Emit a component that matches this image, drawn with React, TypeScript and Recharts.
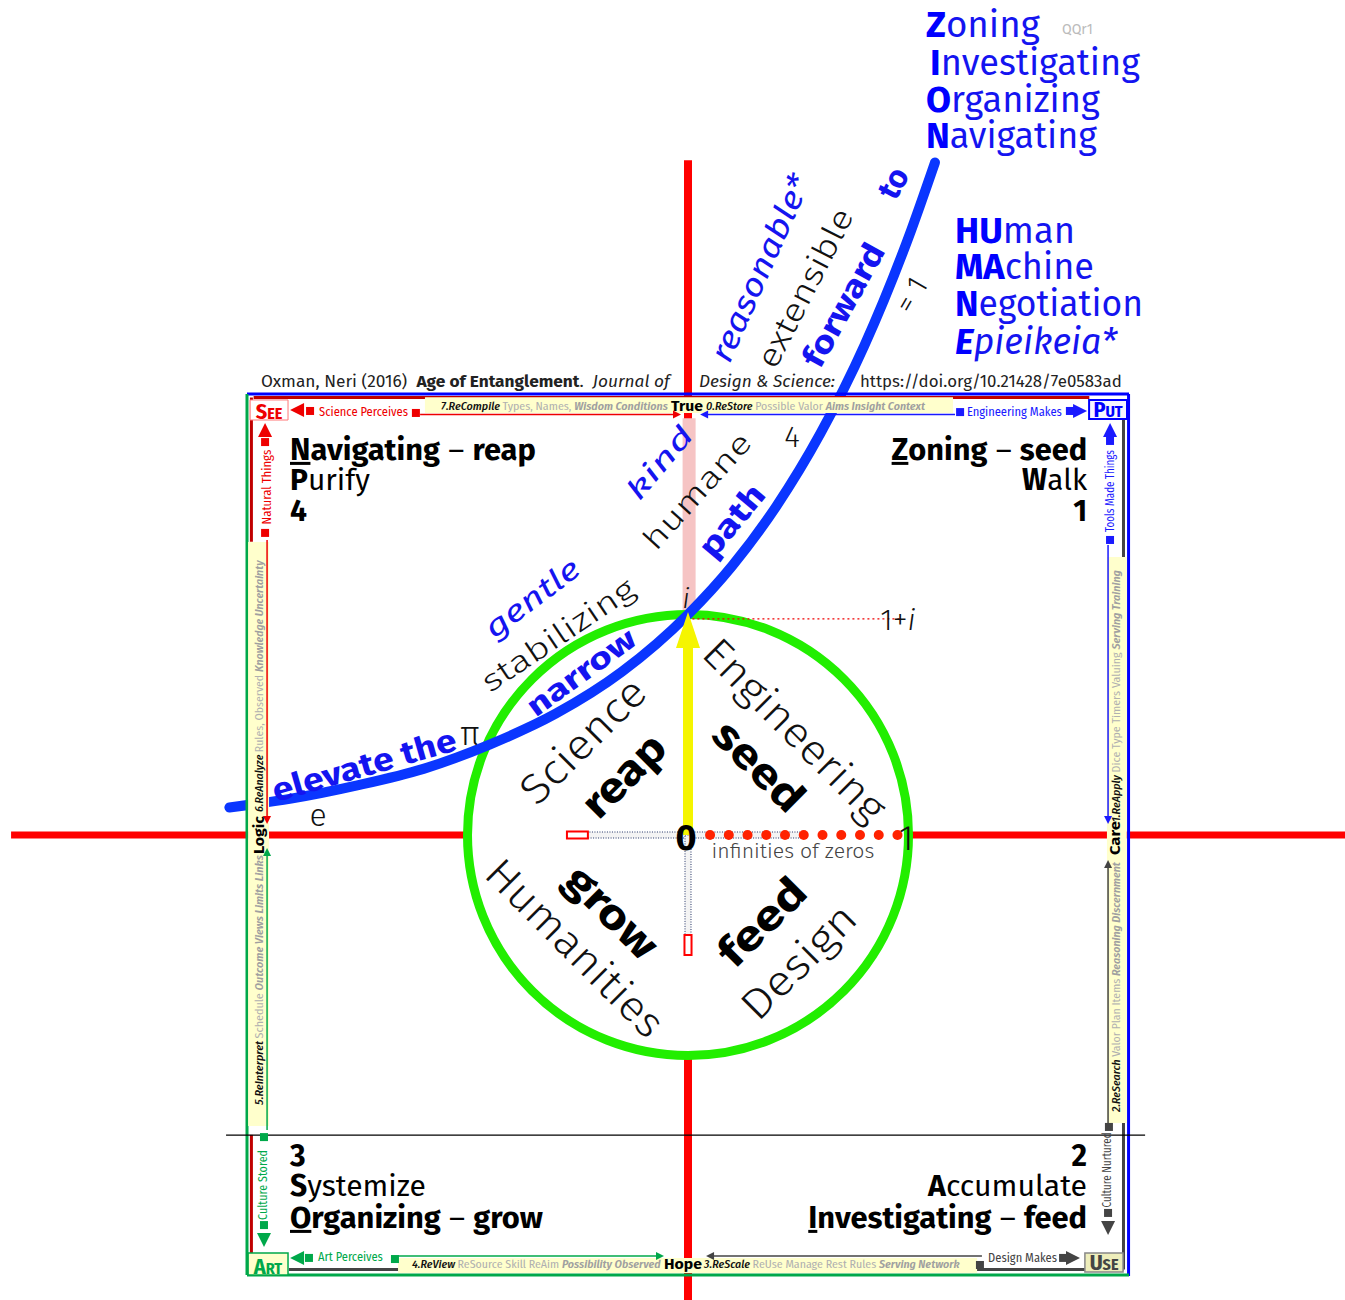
import React from 'react';
import {
  ComposedChart, XAxis, YAxis, Line, Scatter,
  ReferenceLine, ReferenceArea, ReferenceDot,
} from 'recharts';

// ---------- data (complex-plane units; unit circle radius = 1) ----------
const X_DOMAIN: [number, number] = [-3.1202, 2.9796];
const Y_DOMAIN: [number, number] = [-2.1088, 3.7868];

// blue growth path
const pathX = [-2.08, -1.8, -1.5, -1.2, -0.9, -0.6, -0.3, 0, 0.2, 0.4, 0.6, 0.8, 1.0, 1.12];
const pathY = [0.125, 0.165, 0.225, 0.3, 0.41, 0.55, 0.74, 1.0, 1.22, 1.49, 1.82, 2.22, 2.71, 3.05];
// "infinities of zeros" red dots on the real axis
const zeroDotsX = [0.1, 0.185, 0.27, 0.355, 0.44, 0.525, 0.61, 0.695, 0.78, 0.865, 0.95];
// key points
const unitRadius = 1;
const imagUnit = 1;
const frameHalf = 2;

const curveData = pathX.map((x, i) => ({ x, y: pathY[i] }));
const dotData = zeroDotsX.map((x) => ({ x, y: 0 }));

// ---------- styles ----------
const W = 1345;
const H = 1300;
const FF = "'Fira Sans', 'Open Sans', 'Noto Sans', sans-serif";
const FFS = "'Fira Sans Condensed', 'Roboto', 'Noto Sans', sans-serif";
const BLUE = '#1414f0';
const CURVE = '#0a36ff';
const RED = '#ee0000';
const AXRED = '#ff0000';
const GREEN = '#00a84a';
const GREY = '#444444';
const CRIMSON = '#c00000';
const NOTE = '#ffffcc';
const LG = '#b0b0b0';
const LGI = '#a0a0a0';

type Span = { t: string; b?: boolean; i?: boolean; c?: string; fs?: number; u?: boolean; w?: number };
type Note = {
  x: number; y: number; sp: Span[]; fs: number; a?: 'start' | 'middle' | 'end';
  r?: number; c?: string; w?: number; it?: boolean; len?: number; mid?: boolean; ff?: string;
};

const s = (t: string, o: Partial<Span> = {}): Span => ({ t, ...o });

const notes: Note[] = [
  // citation
  { x: -1.937, y: 2.032, fs: 17, c: '#222', len: 409, sp: [s('Oxman, Neri (2016)  '), s('Age of Entanglement', { b: true }), s('.  '), s('Journal of', { i: true })] },
  { x: 0.05, y: 2.032, fs: 17, c: '#222', it: true, len: 136, sp: [s('Design & Science:')] },
  { x: 0.78, y: 2.032, fs: 17, c: '#222', len: 262, sp: [s('https://doi.org/10.21428/7e0583ad')] },
  // ZION
  { x: 1.079, y: 3.619, fs: 36, c: BLUE, len: 114, sp: [s('Z', { b: true, c: '#0000ff' }), s('oning')] },
  { x: 1.696, y: 3.633, fs: 14, c: '#bbbbbb', len: 31, sp: [s('QQr1')] },
  { x: 1.098, y: 3.447, fs: 36, c: BLUE, len: 210, sp: [s('I', { b: true, c: '#0000ff' }), s('nvestigating')] },
  { x: 1.079, y: 3.279, fs: 36, c: BLUE, len: 174, sp: [s('O', { b: true, c: '#0000ff' }), s('rganizing')] },
  { x: 1.079, y: 3.116, fs: 36, c: BLUE, len: 171, sp: [s('N', { b: true, c: '#0000ff' }), s('avigating')] },
  // HUMANE
  { x: 1.211, y: 2.685, fs: 36, c: BLUE, len: 120, sp: [s('HU', { b: true, c: '#0000ff' }), s('man')] },
  { x: 1.211, y: 2.522, fs: 36, c: BLUE, len: 139, sp: [s('MA', { b: true, c: '#0000ff' }), s('chine')] },
  { x: 1.211, y: 2.354, fs: 36, c: BLUE, len: 188, sp: [s('N', { b: true, c: '#0000ff' }), s('egotiation')] },
  { x: 1.211, y: 2.181, fs: 36, c: BLUE, it: true, len: 162, sp: [s('E', { b: true, c: '#0000ff' }), s('pieikeia*')] },
  // quadrant labels
  { x: -1.805, y: 1.701, fs: 30, c: '#000', len: 246, sp: [s('N', { b: true, u: true }), s('avigating', { b: true }), s(' \u2013 '), s('reap', { b: true })] },
  { x: -1.805, y: 1.565, fs: 30, c: '#000', len: 80, sp: [s('P', { b: true }), s('urify')] },
  { x: -1.805, y: 1.424, fs: 30, c: '#000', sp: [s('4', { b: true })] },
  { x: 1.81, y: 1.701, fs: 30, a: 'end', c: '#000', len: 195, sp: [s('Z', { b: true, u: true }), s('oning', { b: true }), s(' \u2013 '), s('seed', { b: true })] },
  { x: 1.81, y: 1.565, fs: 30, a: 'end', c: '#000', len: 65, sp: [s('W', { b: true }), s('alk')] },
  { x: 1.81, y: 1.424, fs: 30, a: 'end', c: '#000', sp: [s('1', { b: true })] },
  { x: -1.805, y: -1.501, fs: 30, c: '#000', sp: [s('3', { b: true })] },
  { x: -1.805, y: -1.637, fs: 30, c: '#000', len: 136, sp: [s('S', { b: true }), s('ystemize')] },
  { x: -1.805, y: -1.782, fs: 30, c: '#000', len: 253, sp: [s('O', { b: true, u: true }), s('rganizing', { b: true }), s(' \u2013 '), s('grow', { b: true })] },
  { x: 1.81, y: -1.501, fs: 30, a: 'end', c: '#000', sp: [s('2', { b: true })] },
  { x: 1.81, y: -1.637, fs: 30, a: 'end', c: '#000', len: 159, sp: [s('A', { b: true }), s('ccumulate')] },
  { x: 1.81, y: -1.782, fs: 30, a: 'end', c: '#000', len: 279, sp: [s('I', { b: true, u: true }), s('nvestigating', { b: true }), s(' \u2013 '), s('feed', { b: true })] },
  // words along the path
  { x: 0.93, y: 2.957, fs: 32, a: 'middle', mid: true, r: -62, c: BLUE, w: 700, sp: [s('to')] },
  { x: 0.327, y: 2.571, fs: 32, a: 'middle', mid: true, r: -66, c: BLUE, it: true, len: 201, sp: [s('reasonable*')] },
  { x: 0.531, y: 2.481, fs: 32, a: 'middle', mid: true, r: -63, c: '#111', w: 300, len: 174, sp: [s('extensible')] },
  { x: 0.705, y: 2.404, fs: 32, a: 'middle', mid: true, r: -61, c: BLUE, w: 700, len: 136, sp: [s('forward')] },
  { x: 1.012, y: 2.449, fs: 30, a: 'middle', mid: true, r: -60, c: '#111', w: 300, sp: [s('= 1')] },
  { x: 0.472, y: 1.805, fs: 30, a: 'middle', mid: true, c: '#111', w: 300, sp: [s('4')] },
  { x: -0.127, y: 1.687, fs: 28, a: 'middle', mid: true, r: -50, c: BLUE, it: true, len: 87, sp: [s('kind')] },
  { x: 0.041, y: 1.56, fs: 30, a: 'middle', mid: true, r: -48, c: '#111', w: 300, len: 146, sp: [s('humane')] },
  { x: 0.2, y: 1.425, fs: 32, a: 'middle', mid: true, r: -50, c: BLUE, w: 700, len: 84, sp: [s('path')] },
  { x: -0.009, y: 1.075, fs: 28, a: 'middle', mid: true, c: '#111', it: true, w: 300, sp: [s('i')] },
  { x: -0.707, y: 1.075, fs: 30, a: 'middle', mid: true, r: -37, c: BLUE, it: true, len: 111, sp: [s('gentle')] },
  { x: -0.59, y: 0.907, fs: 30, a: 'middle', mid: true, r: -34, c: '#111', w: 300, len: 178, sp: [s('stabilizing')] },
  { x: -0.485, y: 0.739, fs: 30, a: 'middle', mid: true, r: -36, c: BLUE, w: 700, len: 127, sp: [s('narrow')] },
  { x: -1.469, y: 0.317, fs: 32, a: 'middle', mid: true, r: -16, c: BLUE, w: 700, len: 190, sp: [s('elevate the')] },
  { x: -0.989, y: 0.463, fs: 34, a: 'middle', mid: true, c: '#111', w: 300, sp: [s('\u03c0')] },
  { x: -1.678, y: 0.091, fs: 32, a: 'middle', mid: true, c: '#111', w: 300, sp: [s('e')] },
  // words inside the circle
  { x: -0.476, y: 0.426, fs: 42, a: 'middle', mid: true, r: -45, c: '#111', w: 300, len: 159, sp: [s('Science')] },
  { x: -0.29, y: 0.268, fs: 42, a: 'middle', mid: true, r: -45, c: '#000', w: 700, len: 100, sp: [s('reap')] },
  { x: 0.485, y: 0.476, fs: 42, a: 'middle', mid: true, r: 45, c: '#111', w: 300, len: 240, sp: [s('Engineering')] },
  { x: 0.322, y: 0.313, fs: 42, a: 'middle', mid: true, r: 45, c: '#000', w: 700, len: 110, sp: [s('seed')] },
  { x: -0.345, y: -0.349, fs: 42, a: 'middle', mid: true, r: 45, c: '#000', w: 700, len: 113, sp: [s('grow')] },
  { x: -0.512, y: -0.512, fs: 42, a: 'middle', mid: true, r: 45, c: '#111', w: 300, len: 233, sp: [s('Humanities')] },
  { x: 0.336, y: -0.395, fs: 42, a: 'middle', mid: true, r: -45, c: '#000', w: 700, len: 106, sp: [s('feed')] },
  { x: 0.503, y: -0.576, fs: 42, a: 'middle', mid: true, r: -45, c: '#111', w: 300, len: 144, sp: [s('Design')] },
  { x: -0.009, y: -0.014, fs: 36, a: 'middle', mid: true, c: '#000', w: 700, sp: [s('0')] },
  { x: 0.989, y: -0.014, fs: 36, a: 'middle', mid: true, c: '#111', w: 300, sp: [s('1')] },
  { x: 0.952, y: 0.975, fs: 30, a: 'middle', mid: true, c: '#111', w: 300, sp: [s('1+'), s('i', { i: true })] },
  { x: 0.476, y: -0.073, fs: 20, a: 'middle', mid: true, c: '#444', w: 300, len: 163, sp: [s('infinities of zeros')] },
  // frame: top
  { x: -1.673, y: 1.9, fs: 12, ff: FFS, c: RED, len: 89, sp: [s('Science Perceives')] },
  { x: -1.12, y: 1.927, fs: 11, ff: FFS, c: '#111', len: 227, sp: [s('7.ReCompile ', { i: true, w: 500 }), s('Types, Names, ', { c: LG }), s('Wisdom Conditions', { i: true, c: LGI, w: 600 })] },
  { x: -0.077, y: 1.923, fs: 15, c: '#000', w: 700, len: 32, sp: [s('True')] },
  { x: 0.082, y: 1.927, fs: 11, ff: FFS, c: '#111', len: 219, sp: [s('0.ReStore ', { i: true, w: 500 }), s('Possible Valor ', { c: LG }), s('Aims Insight Context', { i: true, c: LGI, w: 600 })] },
  { x: 1.265, y: 1.9, fs: 12, ff: FFS, c: '#1a1aff', len: 95, sp: [s('Engineering Makes')] },
  // frame: left
  { x: -1.914, y: 1.578, fs: 12, ff: FFS, a: 'middle', mid: true, r: -90, c: RED, len: 75, sp: [s('Natural Things')] },
  { x: -1.946, y: 0.104, fs: 11, ff: FFS, mid: true, r: -90, c: '#111', len: 252, sp: [s('6.ReAnalyze ', { i: true, w: 500 }), s('Rules, Observed ', { c: LG }), s('Knowledge Uncertainty', { i: true, c: LGI, w: 600 })] },
  { x: -1.946, y: 0, fs: 14, a: 'middle', mid: true, r: -90, c: '#000', w: 700, len: 38, sp: [s('Logic')] },
  { x: -1.946, y: -1.224, fs: 11, ff: FFS, mid: true, r: -90, c: '#111', len: 250, sp: [s('5.ReInterpret ', { i: true, w: 500 }), s('Schedule ', { c: LG }), s('Outcome Views Limits Links', { i: true, c: LGI, w: 600 })] },
  { x: -1.927, y: -1.587, fs: 12, ff: FFS, a: 'middle', mid: true, r: -90, c: GREEN, len: 70, sp: [s('Culture Stored')] },
  // frame: bottom
  { x: -1.678, y: -1.932, fs: 12, ff: FFS, c: GREEN, len: 65, sp: [s('Art Perceives')] },
  { x: -1.252, y: -1.964, fs: 11, ff: FFS, c: '#111', len: 249, sp: [s('4.ReView ', { i: true, w: 500 }), s('ReSource Skill ReAim ', { c: LG }), s('Possibility Observed', { i: true, c: LGI, w: 600 })] },
  { x: -0.109, y: -1.968, fs: 15, c: '#000', w: 700, len: 38, sp: [s('Hope')] },
  { x: 0.073, y: -1.964, fs: 11, ff: FFS, c: '#111', len: 256, sp: [s('3.ReScale ', { i: true, w: 500 }), s('ReUse Manage Rest Rules ', { c: LG }), s('Serving Network', { i: true, c: LGI, w: 600 })] },
  { x: 1.361, y: -1.937, fs: 12, ff: FFS, c: GREY, len: 69, sp: [s('Design Makes')] },
  // frame: right
  { x: 1.914, y: 1.56, fs: 12, ff: FFS, a: 'middle', mid: true, r: -90, c: '#1a1aff', len: 82, sp: [s('Tools Made Things')] },
  { x: 1.941, y: 0.059, fs: 11, ff: FFS, mid: true, r: -90, c: '#111', len: 252, sp: [s('1.ReApply ', { i: true, w: 500 }), s('Dice Type Timers Valuing ', { c: LG }), s('Serving Training', { i: true, c: LGI, w: 600 })] },
  { x: 1.937, y: -0.014, fs: 14, a: 'middle', mid: true, r: -90, c: '#000', w: 700, len: 34, sp: [s('Care')] },
  { x: 1.941, y: -1.256, fs: 11, ff: FFS, mid: true, r: -90, c: '#111', len: 250, sp: [s('2.ReSearch ', { i: true, w: 500 }), s('Valor Plan Items ', { c: LG }), s('Reasoning Discernment', { i: true, c: LGI, w: 600 })] },
  { x: 1.9, y: -1.519, fs: 12, ff: FFS, a: 'middle', mid: true, r: -90, c: GREY, len: 75, sp: [s('Culture Nurtured')] },
  // corners
  { x: -1.9, y: 1.887, fs: 22, ff: FFS, a: 'middle', c: RED, w: 700, sp: [s('S'), s('EE', { fs: 16 })] },
  { x: 1.905, y: 1.896, fs: 22, ff: FFS, a: 'middle', c: '#0000ff', w: 700, sp: [s('P'), s('UT', { fs: 16 })] },
  { x: -1.905, y: -1.991, fs: 22, ff: FFS, a: 'middle', c: GREEN, w: 700, sp: [s('A'), s('RT', { fs: 16 })] },
  { x: 1.887, y: -1.973, fs: 22, ff: FFS, a: 'middle', c: GREY, w: 700, sp: [s('U'), s('SE', { fs: 16 })] },
];

type Mark = { x: number; y: number; k: 'L' | 'R' | 'U' | 'D' | 'S'; c: string; z: number };
const marks: Mark[] = [
  { x: -1.773, y: 1.927, k: 'L', c: RED, z: 14 }, { x: -1.714, y: 1.923, k: 'S', c: RED, z: 8 },
  { x: -1.234, y: 1.914, k: 'S', c: RED, z: 8 }, { x: -0.05, y: 1.907, k: 'R', c: RED, z: 8 },
  { x: 1.234, y: 1.918, k: 'S', c: '#1a1aff', z: 8 }, { x: 1.732, y: 1.923, k: 'S', c: '#1a1aff', z: 8 },
  { x: 1.778, y: 1.923, k: 'R', c: '#1a1aff', z: 14 }, { x: 0.073, y: 1.907, k: 'L', c: '#1a1aff', z: 8 },
  { x: -1.918, y: 1.837, k: 'U', c: RED, z: 14 }, { x: -1.918, y: 1.782, k: 'S', c: RED, z: 8 },
  { x: -1.918, y: 1.37, k: 'S', c: RED, z: 8 }, { x: -1.909, y: 0.068, k: 'D', c: RED, z: 8 },
  { x: -1.909, y: -0.077, k: 'U', c: GREEN, z: 8 }, { x: -1.923, y: -1.37, k: 'S', c: GREEN, z: 8 },
  { x: -1.923, y: -1.769, k: 'S', c: GREEN, z: 8 }, { x: -1.923, y: -1.837, k: 'D', c: GREEN, z: 14 },
  { x: -1.773, y: -1.918, k: 'L', c: GREEN, z: 14 }, { x: -1.719, y: -1.918, k: 'S', c: GREEN, z: 8 },
  { x: -1.329, y: -1.923, k: 'S', c: GREEN, z: 8 }, { x: -0.127, y: -1.909, k: 'R', c: GREEN, z: 8 },
  { x: 1.324, y: -1.95, k: 'S', c: GREY, z: 8 }, { x: 1.701, y: -1.918, k: 'S', c: GREY, z: 8 },
  { x: 1.746, y: -1.918, k: 'R', c: GREY, z: 14 }, { x: 0.1, y: -1.909, k: 'L', c: GREY, z: 8 },
  { x: 1.914, y: 1.837, k: 'U', c: '#1a1aff', z: 14 }, { x: 1.914, y: 1.787, k: 'S', c: '#1a1aff', z: 8 },
  { x: 1.914, y: 1.338, k: 'S', c: '#1a1aff', z: 8 }, { x: 1.905, y: 0.068, k: 'D', c: '#1a1aff', z: 8 },
  { x: 1.905, y: -0.132, k: 'U', c: GREY, z: 8 }, { x: 1.909, y: -1.324, k: 'S', c: GREY, z: 8 },
  { x: 1.905, y: -1.714, k: 'S', c: GREY, z: 8 }, { x: 1.905, y: -1.782, k: 'D', c: GREY, z: 14 },
];

type Seg = { a: [number, number]; b: [number, number]; c: string; w: number };
const segs: Seg[] = [
  { a: [-1.97, 1.984], b: [1.82, 1.984], c: CRIMSON, w: 3 },
  { a: [-1.98, 1.984], b: [-1.98, 1.33], c: CRIMSON, w: 3 },
  { a: [-1.98, -1.36], b: [-1.98, -1.9], c: CRIMSON, w: 3 },
  { a: [1.975, 1.97], b: [1.975, -1.97], c: GREY, w: 3 },
  { a: [-1.81, -1.97], b: [1.975, -1.97], c: GREY, w: 3 },
  { a: [-frameHalf, 2.0], b: [frameHalf, 2.0], c: '#0000ff', w: 3 },
  { a: [1.998, 2.0], b: [1.998, -2.0], c: '#0000ff', w: 3 },
  { a: [-frameHalf, -1.995], b: [frameHalf, -1.995], c: GREEN, w: 3 },
  { a: [-2.0, 2.0], b: [-2.0, -1.995], c: GREEN, w: 3 },
  { a: [-2.095, -1.361], b: [2.073, -1.361], c: '#000', w: 1.2 },
];

const arrowSegs: Seg[] = [
  { a: [-1.215, 1.907], b: [-0.06, 1.907], c: RED, w: 1.5 },
  { a: [0.08, 1.907], b: [1.211, 1.907], c: '#1a1aff', w: 1.5 },
  { a: [-1.909, 1.338], b: [-1.909, 0.08], c: RED, w: 1.5 },
  { a: [-1.909, -1.338], b: [-1.909, -0.08], c: GREEN, w: 1.5 },
  { a: [1.905, 1.315], b: [1.905, 0.08], c: '#1a1aff', w: 1.5 },
  { a: [1.905, -1.338], b: [1.905, -0.13], c: GREY, w: 1.5 },
  { a: [-1.315, -1.909], b: [-0.13, -1.909], c: GREEN, w: 1.5 },
  { a: [1.333, -1.909], b: [0.1, -1.909], c: GREY, w: 1.5 },
];

type Box = { x1: number; x2: number; y1: number; y2: number; f: string; st?: string; sw?: number };
const boxes: Box[] = [
  { x1: -1.193, x2: 1.202, y1: 1.914, y2: 1.985, f: NOTE },
  { x1: -1.995, x2: -1.9, y1: -1.32, y2: 1.329, f: NOTE },
  { x1: 1.9, x2: 1.99, y1: -1.306, y2: 1.261, f: NOTE },
  { x1: -1.315, x2: 1.311, y1: -1.986, y2: -1.918, f: NOTE },
  { x1: -1.986, x2: -1.814, y1: 1.882, y2: 1.973, f: '#ffffff', st: '#ff7777', sw: 1 },
  { x1: 1.819, x2: 1.991, y1: 1.887, y2: 1.973, f: '#f6f6ff', st: '#0000ff', sw: 2 },
  { x1: -1.995, x2: -1.814, y1: -1.995, y2: -1.896, f: NOTE, st: GREEN, sw: 1.5 },
  { x1: 1.8, x2: 1.973, y1: -1.982, y2: -1.896, f: '#eeeebb', st: '#888', sw: 1.5 },
];

// text fitted to a measured width by a horizontal scale (keeps tspans' boxes true)
function FitText({ n, cx, cy }: { n: Note; cx: number; cy: number }) {
  const ref = React.useRef<SVGTextElement>(null);
  const [k, setK] = React.useState(1);
  React.useLayoutEffect(() => {
    if (!n.len || !ref.current) return;
    const w = ref.current.getComputedTextLength();
    if (w > 0) setK(n.len / w);
  }, [n.len, n.fs]);
  const parts: string[] = [];
  if (n.r) parts.push(`rotate(${n.r} ${cx} ${cy})`);
  if (k !== 1) parts.push(`translate(${cx} ${cy}) scale(${k} 1) translate(${-cx} ${-cy})`);
  return (
    <text
      ref={ref}
      x={cx}
      y={cy}
      fontFamily={n.ff || FF}
      fontSize={n.fs}
      fill={n.c || '#000'}
      fontWeight={n.w || 400}
      fontStyle={n.it ? 'italic' : 'normal'}
      textAnchor={n.a || 'start'}
      dominantBaseline={n.mid ? 'central' : 'auto'}
      transform={parts.length ? parts.join(' ') : undefined}
      style={{ whiteSpace: 'pre' }}
    >
      {n.sp.map((sp, j) => (
        <tspan
          key={j}
          fill={sp.c}
          fontWeight={sp.b ? 700 : sp.w}
          fontStyle={sp.i ? 'italic' : undefined}
          fontSize={sp.fs}
          textDecoration={sp.u ? 'underline' : undefined}
        >
          {sp.t}
        </tspan>
      ))}
    </text>
  );
}

function noteShape(n: Note) {
  return (p: any) => {
    if (p.cx == null || p.cy == null) return <g />;
    return <FitText n={n} cx={p.cx} cy={p.cy} />;
  };
}

function markShape(m: Mark) {
  return (p: any) => {
    const cx = p.cx;
    const cy = p.cy;
    const h = m.z / 2;
    if (cx == null || cy == null) return <g />;
    if (m.k === 'S') return <rect x={cx - h} y={cy - h} width={m.z} height={m.z} fill={m.c} />;
    let pts = '';
    if (m.k === 'L') pts = `${cx - h},${cy} ${cx + h},${cy - h} ${cx + h},${cy + h}`;
    if (m.k === 'R') pts = `${cx + h},${cy} ${cx - h},${cy - h} ${cx - h},${cy + h}`;
    if (m.k === 'U') pts = `${cx},${cy - h} ${cx - h},${cy + h} ${cx + h},${cy + h}`;
    if (m.k === 'D') pts = `${cx},${cy + h} ${cx - h},${cy - h} ${cx + h},${cy - h}`;
    return <polygon points={pts} fill={m.c} />;
  };
}

const circleShape = (p: any) => (
  <ellipse
    cx={p.x + p.width / 2}
    cy={p.y + p.height / 2}
    rx={p.width / 2}
    ry={p.height / 2}
    fill="none"
    stroke="#22ee00"
    strokeWidth={9}
  />
);

const arrowHead = (p: any) => (
  <polygon
    points={`${p.cx},${p.cy - 18} ${p.cx - 12},${p.cy + 18} ${p.cx + 12},${p.cy + 18}`}
    fill="#f5f500"
  />
);

export default function App() {
  return (
    <div style={{ position: 'absolute', left: 0, top: 0, width: W, height: H, background: '#fff' }}>
      <ComposedChart width={W} height={H} margin={{ top: 0, right: 0, bottom: 0, left: 0 }}>
        <XAxis type="number" dataKey="x" domain={X_DOMAIN} hide allowDataOverflow />
        <YAxis type="number" dataKey="y" domain={Y_DOMAIN} hide allowDataOverflow />

        {/* axes */}
        <ReferenceLine segment={[{ x: -3.07, y: 0 }, { x: -unitRadius, y: 0 }]} stroke={AXRED} strokeWidth={7} ifOverflow="visible" zIndex={10} />
        <ReferenceLine segment={[{ x: unitRadius, y: 0 }, { x: 2.98, y: 0 }]} stroke={AXRED} strokeWidth={7} ifOverflow="visible" zIndex={10} />
        <ReferenceLine segment={[{ x: 0, y: 3.06 }, { x: 0, y: 1.88 }]} stroke={AXRED} strokeWidth={8} ifOverflow="visible" zIndex={10} />
        <ReferenceLine segment={[{ x: 0.005, y: 1.89 }, { x: 0.005, y: imagUnit }]} stroke="#f6c4c4" strokeWidth={13} ifOverflow="visible" zIndex={10} />
        <ReferenceLine segment={[{ x: 0, y: -unitRadius }, { x: 0, y: -2.11 }]} stroke={AXRED} strokeWidth={8} ifOverflow="visible" zIndex={10} />

        {/* dotted guides inside the circle */}
        <ReferenceArea x1={-0.549} x2={0.508} y1={-0.0136} y2={0.0136} fill="#f4f4f4" fillOpacity={1} stroke="#223366" strokeDasharray="1 1.5" strokeWidth={1} ifOverflow="visible" zIndex={20} />
        <ReferenceArea x1={-0.0136} x2={0.0136} y1={-0.544} y2={0} fill="#f4f4f4" fillOpacity={1} stroke="#223366" strokeDasharray="1 1.5" strokeWidth={1} ifOverflow="visible" zIndex={20} />
        <ReferenceArea x1={-0.549} x2={-0.454} y1={-0.016} y2={0.016} fill="#ffffff" fillOpacity={1} stroke={AXRED} strokeWidth={2} ifOverflow="visible" zIndex={21} />
        <ReferenceArea x1={-0.016} x2={0.016} y1={-0.544} y2={-0.454} fill="#ffffff" fillOpacity={1} stroke={AXRED} strokeWidth={2} ifOverflow="visible" zIndex={21} />

        {/* unit circle */}
        <ReferenceArea x1={-unitRadius} x2={unitRadius} y1={-unitRadius} y2={unitRadius} shape={circleShape} ifOverflow="visible" zIndex={30} />

        {/* yellow vector 0 -> i */}
        <ReferenceLine segment={[{ x: 0, y: 0 }, { x: 0, y: 0.86 }]} stroke="#f5f500" strokeWidth={10} ifOverflow="visible" zIndex={40} />

        {/* 1+i guide */}
        <ReferenceLine segment={[{ x: 0.02, y: 0.98 }, { x: 0.96, y: 0.98 }]} stroke={RED} strokeWidth={1.3} strokeDasharray="2 3" ifOverflow="visible" zIndex={40} />

        {/* blue path */}
        <Line data={curveData} dataKey="y" type="monotone" stroke={CURVE} strokeWidth={10} strokeLinecap="round" dot={false} activeDot={false} isAnimationActive={false} zIndex={50} />

        {/* red zero dots */}
        <Scatter data={dotData} dataKey="y" fill="#ff2200" isAnimationActive={false} zIndex={60}
          shape={(p: any) => <circle cx={p.cx} cy={p.cy} r={5} fill="#ff2200" />} />

        {/* frame lines */}
        {segs.map((g, i) => (
          <ReferenceLine key={`s${i}`} segment={[{ x: g.a[0], y: g.a[1] }, { x: g.b[0], y: g.b[1] }]} stroke={g.c} strokeWidth={g.w} ifOverflow="visible" zIndex={70} />
        ))}

        {/* note boxes */}
        {boxes.map((b, i) => (
          <ReferenceArea key={`b${i}`} x1={b.x1} x2={b.x2} y1={b.y1} y2={b.y2} fill={b.f} fillOpacity={1} stroke={b.st || 'none'} strokeWidth={b.sw || 0} ifOverflow="visible" zIndex={80} />
        ))}

        {/* thin arrows */}
        {arrowSegs.map((g, i) => (
          <ReferenceLine key={`a${i}`} segment={[{ x: g.a[0], y: g.a[1] }, { x: g.b[0], y: g.b[1] }]} stroke={g.c} strokeWidth={g.w} ifOverflow="visible" zIndex={90} />
        ))}
        {marks.map((m, i) => (
          <ReferenceDot key={`m${i}`} x={m.x} y={m.y} r={0} ifOverflow="visible" shape={markShape(m)} zIndex={95} />
        ))}

        {/* arrow head at i */}
        <ReferenceDot x={0} y={0.93} r={0} ifOverflow="visible" shape={arrowHead} zIndex={96} />

        {/* texts */}
        {notes.map((n, i) => (
          <ReferenceDot key={`n${i}`} x={n.x} y={n.y} r={0} ifOverflow="visible" shape={noteShape(n)} zIndex={100} />
        ))}
      </ComposedChart>
    </div>
  );
}
